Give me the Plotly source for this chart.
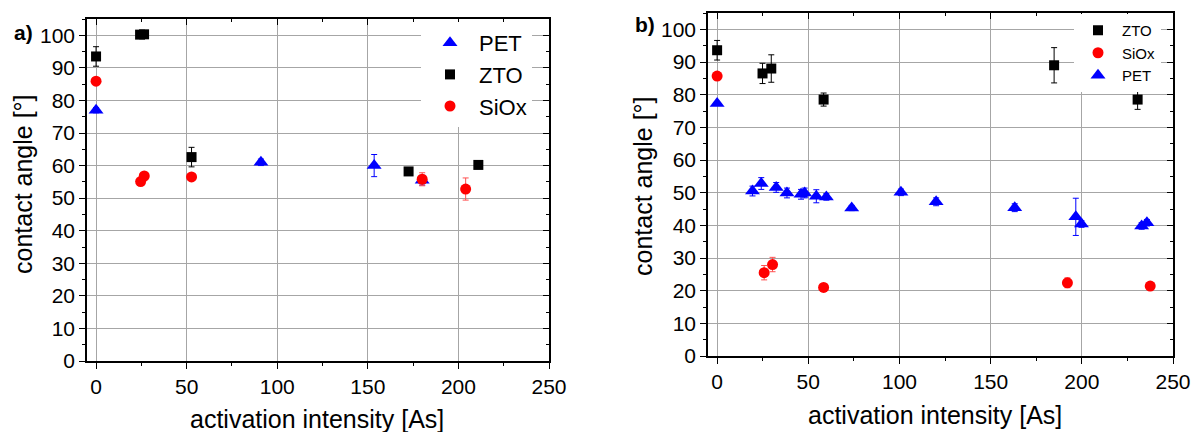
import plotly.graph_objects as go

# ---------------- data: panel a ----------------
a_pet_x = [0, 91, 153.5, 180]
a_pet_y = [77.0, 61.0, 60.0, 55.5]
a_pet_err = [0.8, 1.0, 3.4, 1.5]

a_zto_x = [0, 24.3, 26.5, 52.7, 172.5, 211]
a_zto_y = [93.5, 100.2, 100.3, 62.6, 58.2, 60.2]
a_zto_err = [3.0, 0.5, 0.5, 3.0, 0.5, 0.5]

a_siox_x = [0, 24.6, 26.6, 52.7, 180, 204]
a_siox_y = [85.9, 55.1, 56.8, 56.5, 55.8, 52.8]
a_siox_err = [0.5, 0.5, 0.5, 0.5, 2.0, 3.4]

# ---------------- data: panel b ----------------
b_zto_x = [0, 24.9, 29.7, 58.4, 184.8, 230.6]
b_zto_y = [93.6, 86.5, 88.0, 78.5, 89.0, 78.5]
b_zto_err = [3.0, 3.1, 4.2, 2.0, 5.4, 3.0]

b_siox_x = [0, 25.8, 30.4, 58.4, 192.1, 237.5]
b_siox_y = [85.7, 25.5, 28.0, 21.0, 22.4, 21.4]
b_siox_err = [0.5, 2.2, 2.2, 0.5, 1.5, 0.5]

b_pet_x = [0, 19.4, 24.2, 32.4, 38.3, 46.0, 48.0, 54.4, 59.9, 73.8, 100.8,
           120.1, 163.2, 196.7, 199.8, 232.8, 235.7]
b_pet_y = [77.3, 50.5, 52.8, 51.6, 49.9, 49.5, 49.9, 48.9, 48.7, 45.3, 50.1,
           47.2, 45.4, 42.6, 40.4, 39.8, 40.8]
b_pet_err = [0.5, 1.5, 1.8, 1.5, 1.5, 1.5, 1.5, 2.0, 1.0, 0.8, 1.0,
             1.2, 1.2, 5.7, 1.0, 1.0, 1.0]

x_ticks = [0, 50, 100, 150, 200, 250]
y_ticks = [0, 10, 20, 30, 40, 50, 60, 70, 80, 90, 100]

BLUE = "#0000ff"
RED = "#ff0000"
BLACK = "#000000"
FONT = "Liberation Sans, Arial, sans-serif"
W, H = 1200, 432


def px_x(p):
    return p / W


def px_y(p):
    return 1 - p / H


def series(x, y, err, name, color, symbol, size, xa, ya, legend, errcolor):
    return go.Scatter(
        x=x, y=y, mode="markers", name=name,
        xaxis=xa, yaxis=ya, legend=legend,
        marker=dict(color=color, symbol=symbol, size=size, line=dict(width=0)),
        error_y=dict(type="data", array=err, visible=True, color=errcolor,
                     thickness=1, width=3),
    )


fig = go.Figure()
# panel a (legend order PET, ZTO, SiOx)
fig.add_trace(series(a_pet_x, a_pet_y, a_pet_err, "PET", BLUE, "triangle-up", 13, "x", "y", "legend", BLUE))
fig.add_trace(series(a_zto_x, a_zto_y, a_zto_err, "ZTO", BLACK, "square", 10, "x", "y", "legend", BLACK))
fig.add_trace(series(a_siox_x, a_siox_y, a_siox_err, "SiOx", RED, "circle", 11, "x", "y", "legend", "#ff5050"))
# panel b (legend order ZTO, SiOx, PET)
fig.add_trace(series(b_zto_x, b_zto_y, b_zto_err, "ZTO", BLACK, "square", 10, "x2", "y2", "legend2", BLACK))
fig.add_trace(series(b_siox_x, b_siox_y, b_siox_err, "SiOx", RED, "circle", 11, "x2", "y2", "legend2", "#ff5050"))
fig.add_trace(series(b_pet_x, b_pet_y, b_pet_err, "PET", BLUE, "triangle-up", 13, "x2", "y2", "legend2", BLUE))

# empty traces so the mirrored (inside-tick) axes are drawn
for xa, ya in (("x3", "y3"), ("x4", "y4")):
    fig.add_trace(go.Scatter(x=[], y=[], xaxis=xa, yaxis=ya, showlegend=False, hoverinfo="skip"))

dom = {
    "a": dict(x=[px_x(87), px_x(549)], y=[px_y(361), px_y(19)]),
    "b": dict(x=[px_x(708), px_x(1173)], y=[px_y(356), px_y(13)]),
}

tickfont = dict(family=FONT, size=21, color="black")
grid = "#a6a6a6"


def main_x(d, anchor):
    return dict(domain=d, anchor=anchor, range=[-5, 250], tickvals=x_ticks,
                automargin=False,
                ticks="outside", ticklen=6, tickwidth=1.2, tickcolor="black",
                showline=True, linecolor="black", linewidth=1.5,
                showgrid=True, gridcolor=grid, gridwidth=1, zeroline=False,
                tickfont=tickfont,
                minor=dict(dtick=25, tick0=0, ticks="outside", ticklen=3.5,
                           tickcolor="black", tickwidth=1, showgrid=False))


def main_y(d, anchor):
    return dict(domain=d, anchor=anchor, range=[0, 105], tickvals=y_ticks,
                automargin=False,
                ticks="outside", ticklen=6, tickwidth=1.2, tickcolor="black",
                showline=True, linecolor="black", linewidth=1.5,
                showgrid=True, gridcolor=grid, gridwidth=1, zeroline=False,
                tickfont=tickfont,
                minor=dict(dtick=5, tick0=0, ticks="outside", ticklen=3.5,
                           tickcolor="black", tickwidth=1, showgrid=False))


def mirror_x(d, over, anchor):
    return dict(domain=d, overlaying=over, anchor=anchor, side="top",
                range=[-5, 250], tickvals=x_ticks, showticklabels=False,
                automargin=False,
                ticks="inside", ticklen=6, tickwidth=1.2, tickcolor="black",
                showline=True, linecolor="black", linewidth=1.5,
                showgrid=False, zeroline=False,
                minor=dict(dtick=25, tick0=0, ticks="inside", ticklen=3.5,
                           tickcolor="black", tickwidth=1, showgrid=False))


def mirror_y(d, over, anchor):
    return dict(domain=d, overlaying=over, anchor=anchor, side="right",
                range=[0, 105], tickvals=y_ticks, showticklabels=False,
                automargin=False,
                ticks="inside", ticklen=6, tickwidth=1.2, tickcolor="black",
                showline=True, linecolor="black", linewidth=1.5,
                showgrid=False, zeroline=False,
                minor=dict(dtick=5, tick0=0, ticks="inside", ticklen=3.5,
                           tickcolor="black", tickwidth=1, showgrid=False))


fig.update_layout(
    width=W, height=H, autosize=False,
    margin=dict(l=0, r=0, t=0, b=0, pad=0),
    paper_bgcolor="white", plot_bgcolor="white",
    font=dict(family=FONT, color="black"),
    xaxis=main_x(dom["a"]["x"], "y"),
    yaxis=main_y(dom["a"]["y"], "x"),
    xaxis2=main_x(dom["b"]["x"], "y2"),
    yaxis2=main_y(dom["b"]["y"], "x2"),
    xaxis3=mirror_x(dom["a"]["x"], "x", "y3"),
    yaxis3=mirror_y(dom["a"]["y"], "y", "x3"),
    xaxis4=mirror_x(dom["b"]["x"], "x2", "y4"),
    yaxis4=mirror_y(dom["b"]["y"], "y2", "x4"),
    legend=dict(x=px_x(421), y=px_y(22), xanchor="left", yanchor="top",
                bgcolor="white", borderwidth=0, tracegroupgap=0,
                font=dict(family=FONT, size=22, color="black"), itemwidth=48),
    legend2=dict(x=px_x(1074), y=px_y(14), xanchor="left", yanchor="top",
                 bgcolor="white", borderwidth=0, tracegroupgap=0,
                 font=dict(family=FONT, size=15, color="black"), itemwidth=38),
    showlegend=True,
)

title_font = dict(family=FONT, size=25, color="black")
ann = [
    dict(text="a)", x=px_x(23), y=px_y(33), font=dict(family=FONT, size=21, color="black", weight="bold")),
    dict(text="b)", x=px_x(645), y=px_y(25), font=dict(family=FONT, size=21, color="black", weight="bold")),
    dict(text="contact angle [°]", x=px_x(23), y=px_y(184), textangle=-90, font=title_font),
    dict(text="contact angle [°]", x=px_x(643), y=px_y(186), textangle=-90, font=title_font),
    dict(text="activation intensity [As]", x=px_x(317), y=px_y(419), font=title_font),
    dict(text="activation intensity [As]", x=px_x(935), y=px_y(415), font=title_font),
]
for a in ann:
    a.update(xref="paper", yref="paper", showarrow=False, xanchor="center", yanchor="middle")
fig.update_layout(annotations=ann)

fig.write_html(
    "out.html",
    config={"displayModeBar": False},
    post_script=(
        "document.documentElement.style.margin='0px';"
        "document.documentElement.style.overflow='hidden';"
        "document.body.style.margin='0px';"
        "document.body.style.overflow='hidden';"
    ),
)
